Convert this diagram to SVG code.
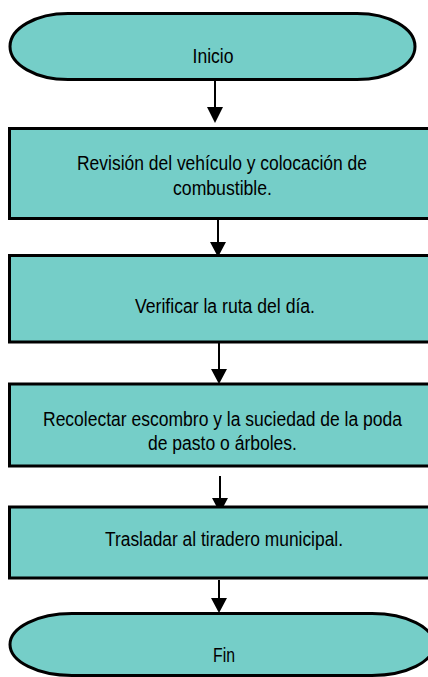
<svg xmlns="http://www.w3.org/2000/svg" width="428" height="677" viewBox="0 0 428 677">
<style>
.n{fill:#75cec8;stroke:#000;stroke-width:3}
.t{font-family:"Liberation Sans",Arial,sans-serif;font-size:19.5px;fill:#000;text-anchor:middle}
.c{stroke:#000;stroke-width:2;fill:none}
.h{fill:#000}
</style>
<rect width="428" height="677" fill="#fff"/>
<g id="connectors">
<line class="c" x1="215" y1="80" x2="215" y2="110"/><path class="h" d="M207,107 L223,107 L215,123 Z"/>
<line class="c" x1="218" y1="220" x2="218" y2="245"/><path class="h" d="M210,242 L226,242 L218,257 Z"/>
<line class="c" x1="219" y1="343" x2="219" y2="372"/><path class="h" d="M211,369 L227,369 L219,384 Z"/>
<line class="c" x1="220" y1="476" x2="220" y2="500"/><path class="h" d="M212,498 L228,498 L220,513 Z"/>
<line class="c" x1="219" y1="580" x2="219" y2="600"/><path class="h" d="M211,598 L227,598 L219,613 Z"/>
</g>
<g id="inicio">
<path class="n" d="M68,13.5 H357 A58,33 0 0 1 357,79.5 H68 A58,33 0 0 1 68,13.5 Z"/>
<text class="t" x="213" y="63" textLength="41" lengthAdjust="spacingAndGlyphs">Inicio</text>
</g>
<g id="revision">
<rect class="n" x="9.5" y="128.5" width="430" height="90"/>
<text class="t" x="222" y="170" textLength="290" lengthAdjust="spacingAndGlyphs">Revisión del vehículo y colocación de</text>
<text class="t" x="222.5" y="195" textLength="99" lengthAdjust="spacingAndGlyphs">combustible.</text>
</g>
<g id="verificar">
<rect class="n" x="9.5" y="255.5" width="430" height="86.5"/>
<text class="t" x="225" y="312.5" textLength="180" lengthAdjust="spacingAndGlyphs">Verificar la ruta del día.</text>
</g>
<g id="recolectar">
<rect class="n" x="9.5" y="384" width="430" height="82"/>
<text class="t" x="222.5" y="426" textLength="359" lengthAdjust="spacingAndGlyphs">Recolectar escombro y la suciedad de la poda</text>
<text class="t" x="222.5" y="450" textLength="149" lengthAdjust="spacingAndGlyphs">de pasto o árboles.</text>
</g>
<g id="trasladar">
<rect class="n" x="9.5" y="507" width="430" height="71"/>
<text class="t" x="224" y="545.5" textLength="238" lengthAdjust="spacingAndGlyphs">Trasladar al tiradero municipal.</text>
</g>
<g id="fin">
<path class="n" d="M72,613.5 H372 A62,31 0 0 1 372,675.5 H72 A62,31 0 0 1 72,613.5 Z"/>
<text class="t" x="224" y="662" textLength="22" lengthAdjust="spacingAndGlyphs">Fin</text>
</g>
</svg>
